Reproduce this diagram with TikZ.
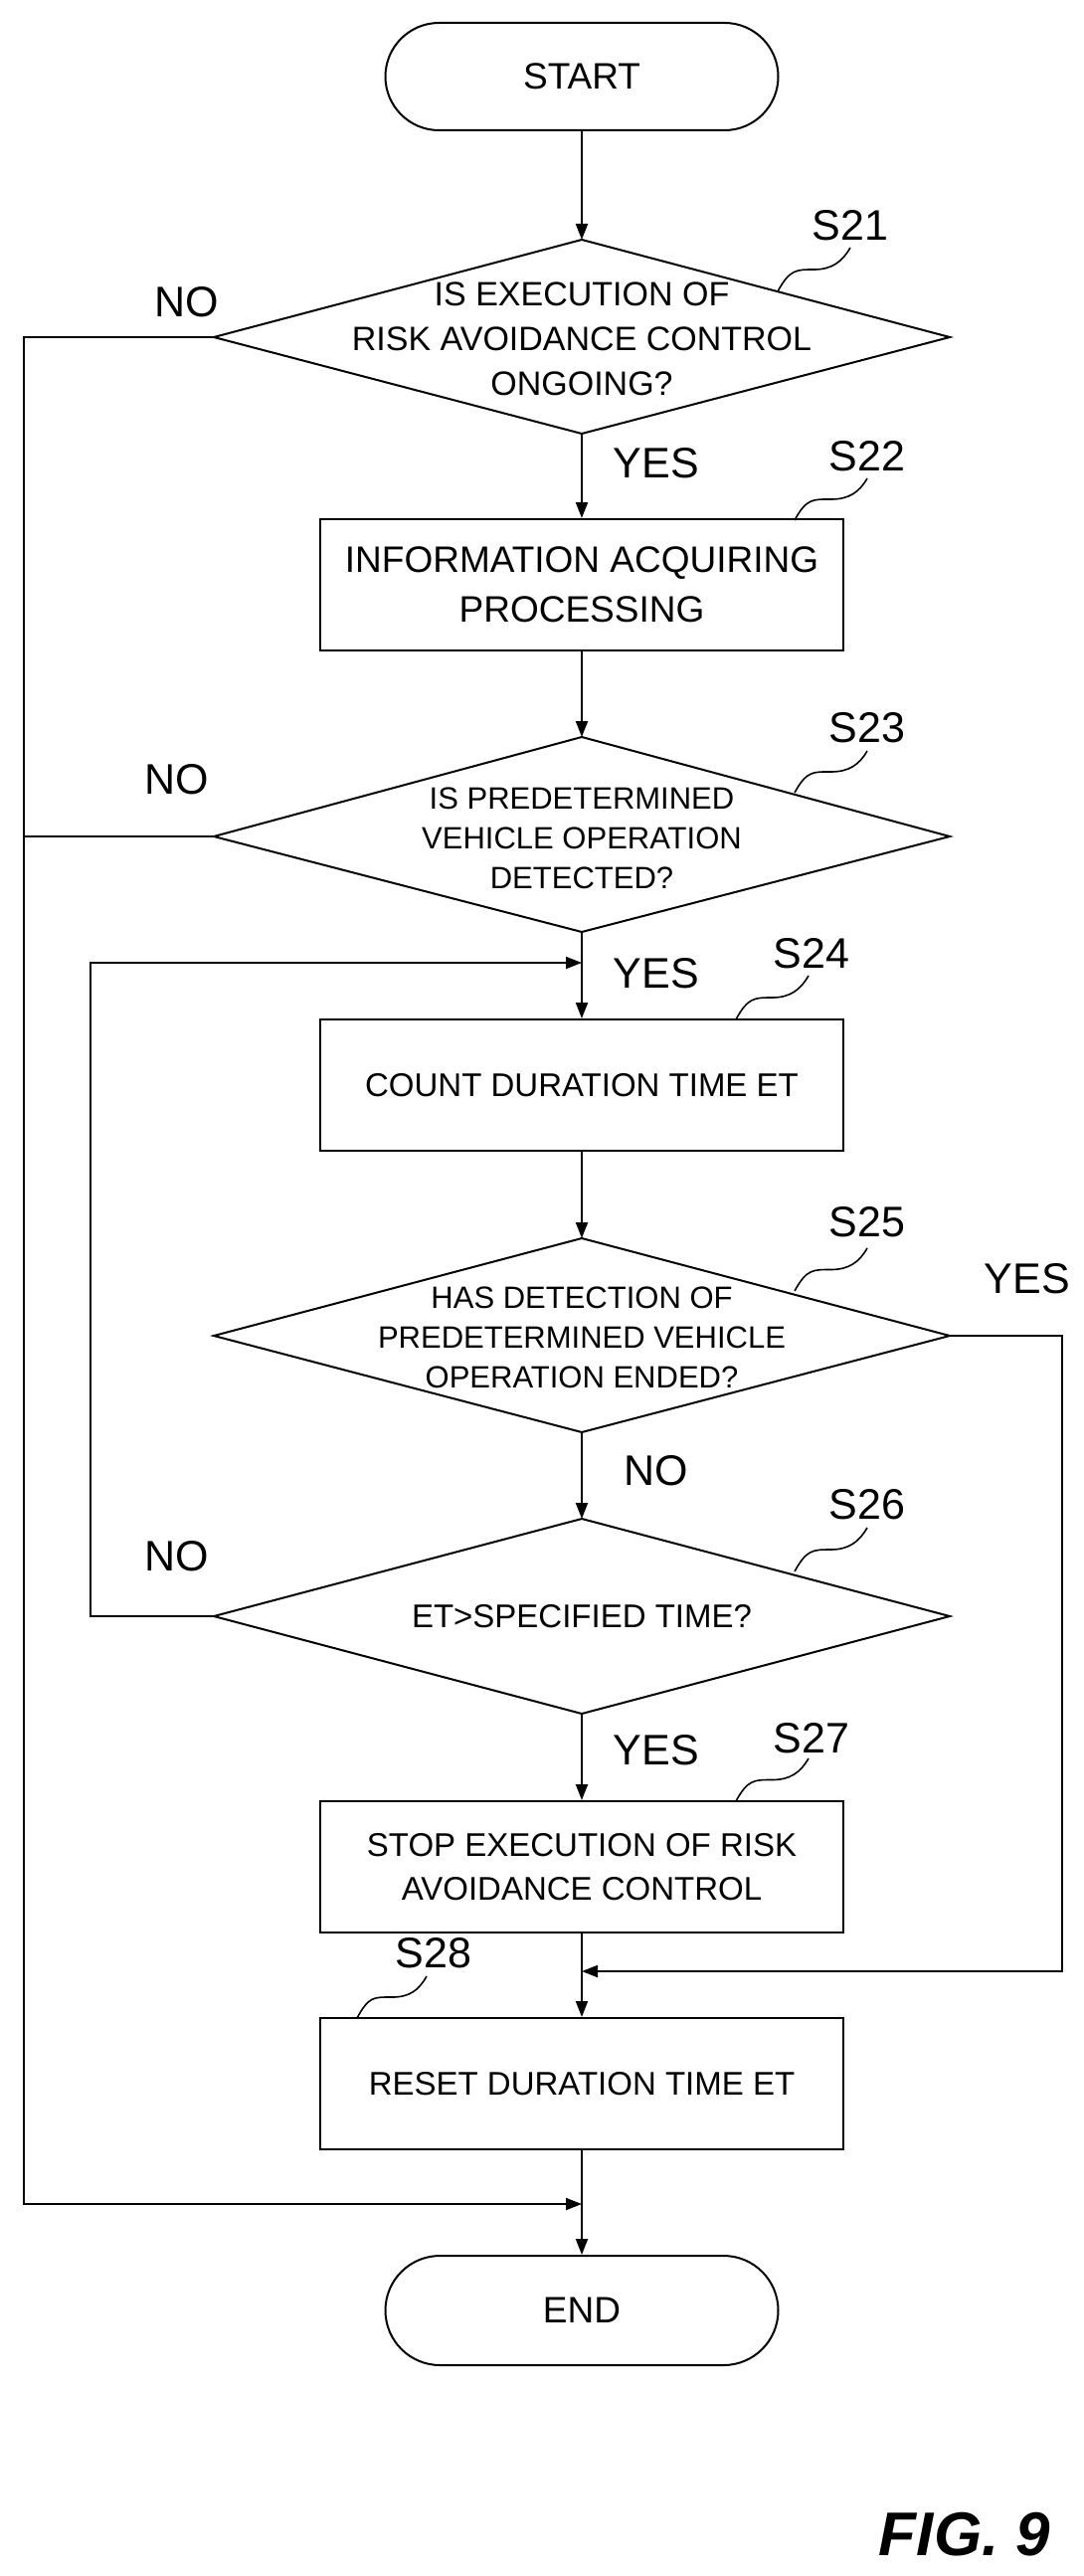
\documentclass[tikz,border=0pt]{standalone}
\usepackage{fontspec}
\setmainfont{Liberation Sans}
\usetikzlibrary{arrows.meta,calc}
\begin{document}
\begin{tikzpicture}[x=1pt,y=-1pt,line width=2pt,
  arr/.style={-{Triangle[length=16pt,width=12pt]}},
  txt/.style={align=center,font=\fontsize{37}{50}\selectfont},
  dtxt/.style={align=center,font=\fontsize{34}{45}\selectfont},
  stxt/.style={align=center,font=\fontsize{33}{44}\selectfont},
  sdtxt/.style={align=center,font=\fontsize{31}{40}\selectfont},
  lbl/.style={font=\fontsize{43}{50}\selectfont},
  box/.style={draw,minimum width=526pt,minimum height=132pt,inner sep=0pt}]
\useasboundingbox (0,0) rectangle (1089,2590);
\newcommand{\squig}[2]{\draw[line width=1.6pt] (#1) .. controls +(12,-22) and +(-18,0) .. ($(#1)!.5!(#2)$) .. controls +(18,0) and +(-8,14) .. (#2);}
\newcommand{\dia}[5]{%
  \coordinate (#1t) at (#2,#3); \coordinate (#1b) at (#2,#5);
  \coordinate (#1l) at ({#2-370},#4); \coordinate (#1r) at ({#2+370},#4);
  \draw (#1t) -- (#1r) -- (#1b) -- (#1l) -- cycle;}
% terminals
\node[draw,rounded corners=54pt,minimum width=395pt,minimum height=108pt,txt] (start) at (585,77) {START};
\node[draw,rounded corners=55pt,minimum width=395pt,minimum height=110pt,txt] (end) at (585,2323) {END};
% diamonds
\dia{d1}{585}{241}{339}{436}
\node[dtxt] (s21) at (585,341) {IS EXECUTION OF\\RISK AVOIDANCE CONTROL\\ONGOING?};
\dia{d3}{585}{741}{841}{937}
\node[sdtxt] (s23) at (585,843) {IS PREDETERMINED\\VEHICLE OPERATION\\DETECTED?};
\dia{d5}{585}{1245}{1343}{1440}
\node[sdtxt] (s25) at (585,1345) {HAS DETECTION OF\\PREDETERMINED VEHICLE\\OPERATION ENDED?};
\dia{d6}{585}{1527}{1625}{1723}
\node[stxt] (s26) at (585,1625) {ET>SPECIFIED TIME?};
% boxes
\node[box,txt] (s22) at (585,588) {INFORMATION ACQUIRING\\PROCESSING};
\node[box,stxt] (s24) at (585,1091) {COUNT DURATION TIME ET};
\node[box,stxt] (s27) at (585,1877) {STOP EXECUTION OF RISK\\AVOIDANCE CONTROL};
\node[box,stxt] (s28) at (585,2095) {RESET DURATION TIME ET};
% helper coordinates
\coordinate (loop) at (585,968);
\coordinate (join1) at (585,1982);
\coordinate (join2) at (585,2216);
\coordinate (lt) at (24,339); \coordinate (lm) at (24,841); \coordinate (lb) at (24,2216);
\coordinate (l2t) at (91,1625); \coordinate (l2b) at (91,968);
\coordinate (rt) at (1068,1343); \coordinate (rb) at (1068,1982);
% connectors
\draw[arr] (start) -- (d1t);
\draw[arr] (d1b) -- (s22);
\draw[arr] (s22) -- (d3t);
\draw[arr] (d3b) -- (s24);
\draw[arr] (s24) -- (d5t);
\draw[arr] (d5b) -- (d6t);
\draw[arr] (d6b) -- (s27);
\draw[arr] (s27) -- (s28);
\draw[arr] (s28) -- (end);
\draw[arr] (d1l) -- (lt) -- (lb) -- (join2);
\draw (d3l) -- (lm);
\draw[arr] (d6l) -- (l2t) -- (l2b) -- (loop);
\draw[arr] (d5r) -- (rt) -- (rb) -- (join1);
% yes/no labels
\node[lbl] (n1) at (188,304) {NO};
\node[lbl] (y1) at (660,466) {YES};
\node[lbl] (n3) at (178,784) {NO};
\node[lbl] (y3) at (660,979) {YES};
\node[lbl] (y5) at (1033,1286) {YES};
\node[lbl] (n5) at (660,1479) {NO};
\node[lbl] (n6) at (178,1565) {NO};
\node[lbl] (y6) at (660,1760) {YES};
% step labels
\node[lbl] (l21) at (855,227) {S21};
\node[lbl] (l22) at (872,459) {S22};
\node[lbl] (l23) at (872,732) {S23};
\node[lbl] (l24) at (816,959) {S24};
\node[lbl] (l25) at (872,1229) {S25};
\node[lbl] (l26) at (872,1513) {S26};
\node[lbl] (l27) at (816,1748) {S27};
\node[lbl] (l28) at (436,1964) {S28};
\coordinate (q21) at (855,249); \coordinate (p21) at (782,293);
\coordinate (q22) at (872,481); \coordinate (p22) at (799,523);
\coordinate (q23) at (872,755); \coordinate (p23) at (799,797);
\coordinate (q24) at (813,981); \coordinate (p24) at (740,1025);
\coordinate (q25) at (872,1255); \coordinate (p25) at (799,1298);
\coordinate (q26) at (872,1536); \coordinate (p26) at (799,1580);
\coordinate (q27) at (813,1768); \coordinate (p27) at (740,1811);
\coordinate (q28) at (429,1987); \coordinate (p28) at (359,2029);
\squig{p21}{q21}\squig{p22}{q22}\squig{p23}{q23}\squig{p24}{q24}
\squig{p25}{q25}\squig{p26}{q26}\squig{p27}{q27}\squig{p28}{q28}
\node[font=\fontsize{62}{70}\selectfont\bfseries\itshape] (fig) at (970,2548) {FIG. 9};
\end{tikzpicture}
\end{document}
